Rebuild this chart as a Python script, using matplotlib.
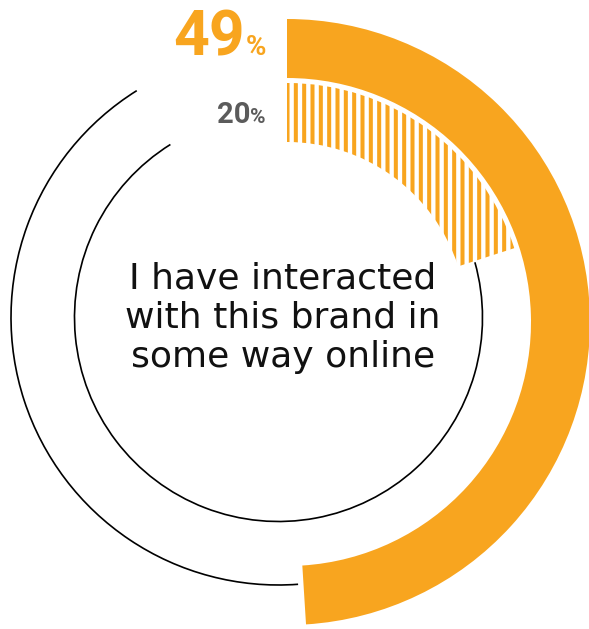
import matplotlib
matplotlib.use('Agg')
import matplotlib.pyplot as plt
from matplotlib.patches import Wedge, Arc

# survey shares (percent)
online_share = 49      # outer ring
other_share = 20       # inner hatched ring
caption = 'I have interacted\nwith this brand in\nsome way online'

orange = '#F8A51F'
grey = '#5B5B5B'

W, H = 589, 629
fig = plt.figure(figsize=(W / 100, H / 100), dpi=100)
ax = fig.add_axes([0, 0, 1, 1])
ax.set_xlim(0, W)
ax.set_ylim(0, H)
ax.set_aspect('equal')
ax.axis('off')


def clock(a):
    # clockwise-from-12 angle -> matplotlib angle
    return 90 - a


ring_c = (287, H - 322)
line_c = (278.5, H - 317.5)

# outer solid ring
ax.add_patch(Wedge(ring_c, 303, clock(online_share * 3.6), 90, width=59,
                   facecolor=orange, edgecolor='none'))
# inner hatched ring
plt.rcParams['hatch.linewidth'] = 2.9
ax.add_patch(Wedge(ring_c, 239, clock(other_share * 3.6), 90, width=59,
                   facecolor='none', edgecolor=orange, hatch='||', linewidth=0))

# thin remainder lines
gap = 328
ax.add_patch(Arc(line_c, 2 * 267.5, 2 * 267.5, theta1=clock(gap),
                 theta2=clock(online_share * 3.6 - 0.6), color='black', lw=1.2))
ax.add_patch(Arc(line_c, 2 * 204, 2 * 204, theta1=clock(gap),
                 theta2=clock(other_share * 3.6 + 2.3), color='black', lw=1.2))

# value labels
num_font = ['DejaVu Sans Condensed', 'Liberation Sans Narrow', 'Roboto', 'DejaVu Sans']
ax.text(245, H - 55, f'{online_share}', color=orange, fontsize=45, fontweight='bold',
        family=num_font, ha='right', va='baseline')
ax.text(246, H - 55, '%', color=orange, fontsize=20, fontweight='bold',
        family=num_font, ha='left', va='baseline')
ax.text(250, H - 123, f'{other_share}', color=grey, fontsize=21, fontweight='bold',
        family=num_font, ha='right', va='baseline')
ax.text(250, H - 123, '%', color=grey, fontsize=15, fontweight='bold',
        family=num_font, ha='left', va='baseline')

# centre caption
ax.text(283, H - 318, caption, color='#111111', fontsize=26, family='DejaVu Sans',
        ha='center', va='center', linespacing=1.2)

fig.savefig('out.png', dpi=100, facecolor='white')
